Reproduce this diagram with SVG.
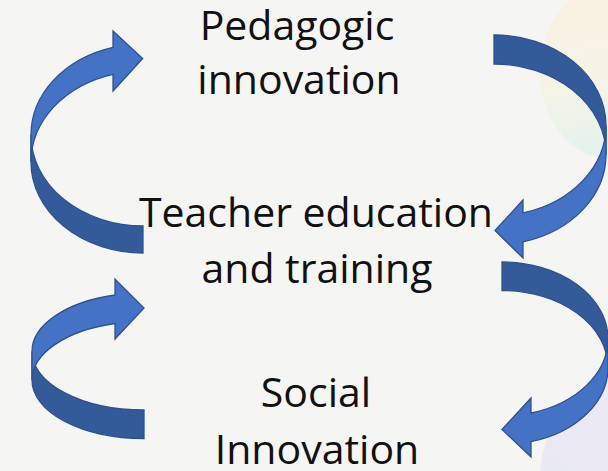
<svg xmlns="http://www.w3.org/2000/svg" width="608" height="471" viewBox="0 0 608 471">
  <defs>
    <linearGradient id="gTop" x1="0.3" y1="0" x2="0.4" y2="1">
      <stop offset="0" stop-color="#FBF0DC"/>
      <stop offset="0.6" stop-color="#F4F3E4"/>
      <stop offset="1" stop-color="#DDF2EC"/>
    </linearGradient>
    <linearGradient id="gBot" x1="0.6" y1="0" x2="0.2" y2="1">
      <stop offset="0" stop-color="#EAE5F4"/>
      <stop offset="0.6" stop-color="#E6E6F4"/>
      <stop offset="1" stop-color="#DCEEF4"/>
    </linearGradient>
    <style>
      .lbl { font-family: "Open Sans", "DejaVu Sans", sans-serif; font-size: 41px; fill: #111111; text-anchor: middle; }
      .light { fill: #4472C4; stroke: #2F528F; stroke-width: 1.3; stroke-linejoin: miter; }
      .dark { fill: #335A99; stroke: #2F528F; stroke-width: 1.3; }
    </style>
  </defs>

  <rect x="0" y="0" width="608" height="471" fill="#F5F5F3"/>
  <ellipse cx="608" cy="72" rx="68" ry="86" fill="url(#gTop)" opacity="0.8"/>
  <ellipse cx="640" cy="478" rx="100" ry="105" fill="url(#gBot)" opacity="0.8"/>

  <g id="connectors">
    <g id="arrow-top-left">
      <path class="dark" d="M143,226 A112,91 0 0 1 31,135 L31,162 A112,91 0 0 0 143,253 Z"/>
      <path class="light" d="M113,47.3 L113,31 L142.7,58.5 L113,91 L113,74.3 A112,91 0 0 0 31,162 L31,135 A112,91 0 0 1 113,47.3 Z"/>
    </g>
    <g id="arrow-bottom-left">
      <path class="dark" d="M144,410 A112,58.5 0 0 1 32,351.5 L32,380 A112,58.5 0 0 0 144,438.5 Z"/>
      <path class="light" d="M115,295 L115,279 L144,308 L115,339 L115,323.5 A112,58.5 0 0 0 32,380 L32,351.5 A112,58.5 0 0 1 115,295 Z"/>
    </g>
    <g id="arrow-top-right">
      <path class="dark" d="M494,35 A112,90.5 0 0 1 606,125.5 L606,154.5 A112,90.5 0 0 0 494,64 Z"/>
      <path class="light" d="M523,212.9 L523,200 L495,230.5 L523,258 L523,241.9 A112,90.5 0 0 0 606,154.5 L606,125.5 A112,90.5 0 0 1 523,212.9 Z"/>
    </g>
    <g id="arrow-bottom-right">
      <path class="dark" d="M502,262 A106,77 0 0 1 608,339 L608,367.5 A106,77 0 0 0 502,290.5 Z"/>
      <path class="light" d="M531,413 L531,398 L502,429.5 L531,457 L531,441.6 A106,77 0 0 0 608,367.5 L608,339 A106,77 0 0 1 531,413 Z"/>
    </g>
  </g>

  <g id="node-pedagogic">
    <text class="lbl" x="297" y="40">Pedagogic</text>
    <text class="lbl" x="299" y="94">innovation</text>
  </g>
  <g id="node-teacher">
    <text class="lbl" x="316" y="227">Teacher education</text>
    <text class="lbl" x="317" y="283">and training</text>
  </g>
  <g id="node-social">
    <text class="lbl" x="316" y="407">Social</text>
    <text class="lbl" x="317" y="464">Innovation</text>
  </g>
</svg>
